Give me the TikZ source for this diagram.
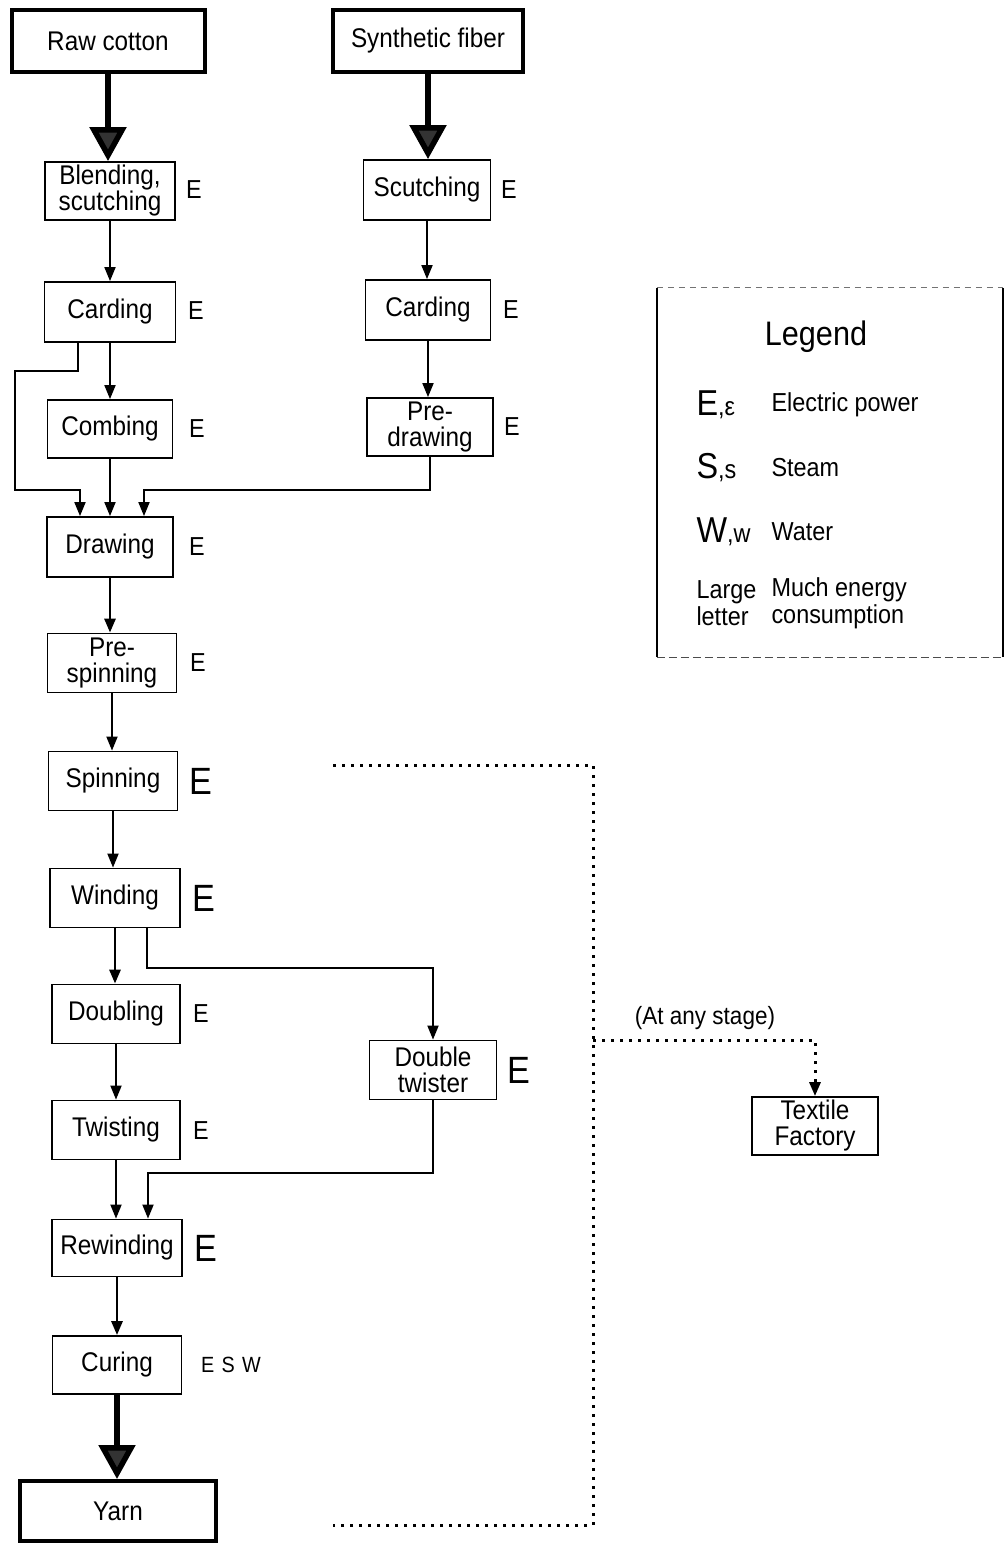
\documentclass[tikz,border=0pt]{standalone}
\usepackage{fontspec}
\setmainfont{Liberation Sans}[FakeStretch=0.9]
\usetikzlibrary{arrows.meta,calc}
\begin{document}
\begin{tikzpicture}[x=1pt,y=-1pt,
 box/.style={draw,line width=1.8pt,inner sep=0pt,align=center,font=\fontsize{27}{26}\selectfont},
 thickbox/.style={box,line width=4pt},
 lab/.style={font=\fontsize{26}{26}\selectfont},
 biglab/.style={font=\fontsize{38}{38}\selectfont},
 legtext/.style={anchor=west,align=left,font=\fontsize{26}{27}\selectfont},
 arr/.style={line width=1.8pt,-{Triangle[width=11pt,length=14pt]}},
 arrb/.style={arr,line width=2.8pt},
 bigarr/.style={line width=5.5pt,-{Triangle[width=36pt,length=34pt,fill=black!80]}},
 dots/.style={line width=3pt,dash pattern=on 3pt off 6pt},
]
\useasboundingbox (0,0) rectangle (1007,1545);
\fill[white] (0,0) rectangle (1007,1545);

% ---- nodes ----
\node[thickbox,minimum width=193pt,minimum height=62pt] (raw) at (108,41) {Raw cotton};
\node[thickbox,minimum width=190pt,minimum height=62pt] (syn) at (428,41) {Synthetic fiber};
\node[box,minimum width=130pt,minimum height=58pt] (blend) at (110,191) {Blending,\\scutching};
\node[box,minimum width=127pt,minimum height=60pt] (scut) at (427,190) {Scutching};
\node[box,minimum width=131pt,minimum height=60pt] (card1) at (110,312) {Carding};
\node[box,minimum width=125pt,minimum height=60pt] (card2) at (428,310) {Carding};
\node[box,minimum width=125pt,minimum height=58pt] (comb) at (110,429) {Combing};
\node[box,minimum width=126pt,minimum height=58pt] (pred) at (430,427) {Pre-\\drawing};
\node[box,minimum width=126pt,minimum height=60pt] (draw) at (110,547) {Drawing};
\node[box,minimum width=129pt,minimum height=59pt] (presp) at (112,663) {Pre-\\spinning};
\node[box,minimum width=129pt,minimum height=59pt] (spin) at (113,781) {Spinning};
\node[box,minimum width=130pt,minimum height=59pt] (wind) at (115,898) {Winding};
\node[box,minimum width=128pt,minimum height=59pt] (doub) at (116,1014) {Doubling};
\node[box,minimum width=128pt,minimum height=59pt] (twist) at (116,1130) {Twisting};
\node[box,minimum width=127pt,minimum height=59pt] (dtw) at (433,1070) {Double\\twister};
\node[box,minimum width=130pt,minimum height=57pt] (rewd) at (117,1248) {Rewinding};
\node[box,minimum width=129pt,minimum height=58pt] (cur) at (117,1365) {Curing};
\node[thickbox,minimum width=196pt,minimum height=60pt] (yarn) at (118,1511) {Yarn};
\node[box,minimum width=126pt,minimum height=58pt] (tex) at (815,1126) {Textile\\Factory};

% ---- energy labels ----
\node[lab] (e1) at (194,190) {E};
\node[lab] (e2) at (509,190) {E};
\node[lab] (e3) at (196,311) {E};
\node[lab] (e4) at (511,310) {E};
\node[lab] (e5) at (197,429) {E};
\node[lab] (e6) at (512,427) {E};
\node[lab] (e7) at (197,547) {E};
\node[lab] (e8) at (198,663) {E};
\node[biglab] (e9) at (201,781) {E};
\node[biglab] (e10) at (204,898) {E};
\node[lab] (e11) at (201,1014) {E};
\node[lab] (e12) at (201,1131) {E};
\node[biglab] (e13) at (519,1070) {E};
\node[biglab] (e14) at (206,1248) {E};
\node[font=\fontsize{22}{22}\selectfont] (e15) at (231,1365) {E\,\,S\,\,W};

% ---- connectors ----
\draw[bigarr] (raw.south) -- (raw.south |- blend.north);
\draw[bigarr] (syn.south) -- (syn.south |- scut.north);
\draw[arr] (blend.south) -- (blend.south |- card1.north);
\draw[arr] (scut.south) -- (scut.south |- card2.north);
\draw[arr] (card1.south) -- (card1.south |- comb.north);
\draw[arr] (card2.south) -- (card2.south |- pred.north);

\coordinate (c1) at (78,371);
\coordinate (c2) at (15,371);
\coordinate (c3) at (15,490);
\coordinate (c4) at (80,490);
\draw[arr] (c1 |- card1.south) -- (c1) -- (c2) -- (c3) -- (c4) -- (c4 |- draw.north);
\draw[arr] (comb.south) -- (comb.south |- draw.north);
\coordinate (p1) at (144,490);
\draw[arr] (pred.south) |- (p1) -- (p1 |- draw.north);

\draw[arrb] (draw.south) -- (draw.south |- presp.north);
\draw[arr] (presp.south) -- (presp.south |- spin.north);
\draw[arr] (spin.south) -- (spin.south |- wind.north);
\draw[arrb] (wind.south) -- (wind.south |- doub.north);
\coordinate (w1) at (147,968);
\draw[arr] (w1 |- wind.south) -- (w1) -| (dtw.north);
\draw[arr] (doub.south) -- (doub.south |- twist.north);
\draw[arr] (twist.south) -- (twist.south |- rewd.north);
\coordinate (d1) at (148,1173);
\draw[arr] (dtw.south) |- (d1) -- (d1 |- rewd.north);
\draw[arrb] (rewd.south) -- (rewd.south |- cur.north);
\draw[bigarr] (cur.south) -- (cur.south |- yarn.north);

% ---- dotted path ----
\coordinate (q1) at (333,765);
\coordinate (q2) at (593,765);
\coordinate (q3) at (593,1525);
\coordinate (q4) at (333,1525);
\coordinate (br) at (593,1040);
\draw[dots] (q1) -- (q2) -- (q3) -- (q4);
\draw[dots,-{Triangle[width=11pt,length=14pt]}] (br) -| (tex.north);
\node[font=\fontsize{25}{25}\selectfont] (stage) at (705,1018) {(At any stage)};

% ---- legend ----
\node[minimum width=346pt,minimum height=369pt,inner sep=0pt] (leg) at (830,472.5) {};
\draw[line width=1.5pt] (leg.north west) -- (leg.south west);
\draw[line width=2.5pt] (leg.north east) -- (leg.south east);
\draw[line width=1pt,black!55,dash pattern=on 6pt off 5pt] (leg.north west) -- (leg.north east);
\draw[line width=1.2pt,black!70,dash pattern=on 8pt off 4pt] (leg.south west) -- (leg.south east);
\node[font=\fontsize{34}{34}\selectfont] (legt) at (816,337) {Legend};
\node[legtext] (l1a) at (693,405) {{\fontsize{36}{36}\selectfont E},ε};
\node[legtext] (l1b) at (768,405) {Electric power};
\node[legtext] (l2a) at (693,468) {{\fontsize{36}{36}\selectfont S},s};
\node[legtext] (l2b) at (768,468) {Steam};
\node[legtext] (l3a) at (693,532) {{\fontsize{36}{36}\selectfont W},w};
\node[legtext] (l3b) at (768,532) {Water};
\node[legtext] (l4a) at (693,603) {Large\\letter};
\node[legtext] (l4b) at (768,603) {Much energy\\consumption};
\end{tikzpicture}
\end{document}
